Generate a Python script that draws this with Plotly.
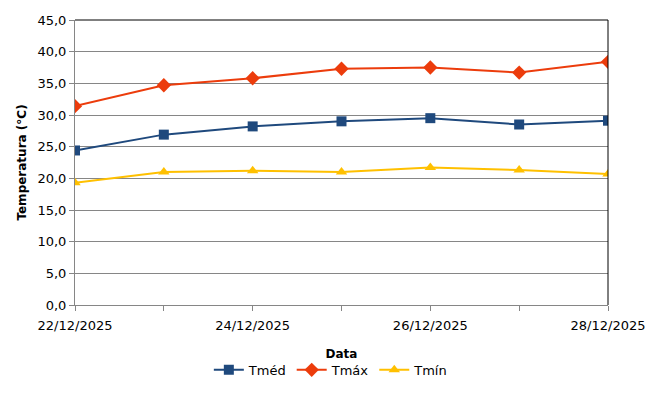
import plotly.graph_objects as go

# dados
datas = ["2025-12-22", "2025-12-23", "2025-12-24", "2025-12-25",
         "2025-12-26", "2025-12-27", "2025-12-28"]
t_med = [24.4, 26.9, 28.2, 29.0, 29.5, 28.5, 29.1]
t_max = [31.4, 34.7, 35.8, 37.3, 37.5, 36.7, 38.4]
t_min = [19.3, 21.0, 21.2, 21.0, 21.7, 21.3, 20.7]

fonte = dict(family="DejaVu Sans", size=13, color="#000000")

fig = go.Figure()
fig.add_trace(go.Scatter(x=datas, y=t_med, name="Tméd", mode="lines+markers",
                         line=dict(color="#1F497D", width=2),
                         marker=dict(symbol="square", size=10)))
fig.add_trace(go.Scatter(x=datas, y=t_max, name="Tmáx", mode="lines+markers",
                         line=dict(color="#EC3C0C", width=2),
                         marker=dict(symbol="diamond", size=11)))
fig.add_trace(go.Scatter(x=datas, y=t_min, name="Tmín", mode="lines+markers",
                         line=dict(color="#FFC000", width=2),
                         marker=dict(symbol="triangle-up", size=10)))

fig.update_layout(
    width=672, height=404,
    margin=dict(l=67, r=72, t=12, b=107, autoexpand=False),
    paper_bgcolor="white", plot_bgcolor="white",
    font=fonte,
    separators=",.",
    showlegend=True,
    legend=dict(orientation="h", x=0.48, xanchor="center", y=-0.175, yanchor="top",
                font=dict(family="DejaVu Sans", size=13), itemwidth=30,
                tracegroupgap=0),
    shapes=[
        dict(type="line", xref="paper", yref="paper", x0=0, x1=1, y0=1, y1=1,
             line=dict(color="black", width=1)),
        dict(type="line", xref="paper", yref="paper", x0=1, x1=1, y0=0, y1=1,
             line=dict(color="black", width=1)),
    ],
)
fig.update_xaxes(
    type="date", range=["2025-12-22", "2025-12-28"],
    dtick=2 * 86400000, tick0="2025-12-22", tickformat="%d/%m/%Y",
    ticks="outside", ticklen=5, tickcolor="#868686", automargin=False,
    ticklabelstandoff=3,
    minor=dict(dtick=86400000, ticks="outside", ticklen=5, tickcolor="#868686", showgrid=False),
    showline=True, linecolor="#868686", linewidth=1, showgrid=False,
    title=dict(text="<b>Data</b>", font=dict(size=12), standoff=18),
)
fig.update_yaxes(
    range=[0, 45], dtick=5, tickformat=".1f",
    ticks="outside", ticklen=5, tickcolor="#868686", automargin=False,
    showline=True, linecolor="#868686", linewidth=1,
    showgrid=True, gridcolor="#868686", gridwidth=1, zeroline=False,
    title=dict(text="<b>Temperatura (°C)</b>", font=dict(size=12), standoff=8),
)

fig.write_html("out.html")
